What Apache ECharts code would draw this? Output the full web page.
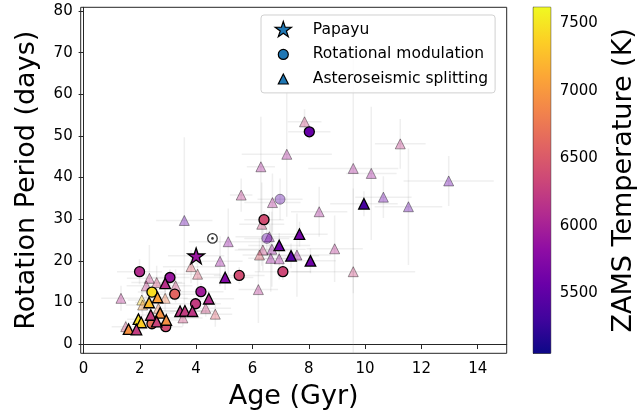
<!DOCTYPE html>
<html><head><meta charset="utf-8">
<script src="https://cdn.jsdelivr.net/npm/echarts@6/dist/echarts.min.js"></script>
<style>html,body{margin:0;padding:0;background:#fff}#c{width:644px;height:418px}</style>
</head><body><div id="c"></div>
<script>
// ---------- data ----------
const xTicks = [0, 2, 4, 6, 8, 10, 12, 14];
const yTicks = [0, 10, 20, 30, 40, 50, 60, 70, 80];
const cbTicks = [5500, 6000, 6500, 7000, 7500];
const tempRange = [5056, 7618];
const plasma = ['#0d0887','#41049d','#6a00a8','#8f0da4','#b12a90','#cc4778','#e16462','#f2844b','#fca636','#fcce25','#f0f921'];

// [age (Gyr), period (d), ZAMS Teff (K), age err, period err]
const faintTri = [
  [7.85,53.4,6300,0.6,3],[7.22,45.6,6000,1.6,15],[6.30,42.6,6000,0.5,12],[11.25,48.1,6200,0.9,6],
  [9.58,42.2,6000,1.6,30],[10.22,41.0,5950,0.9,16],[12.97,39.2,5550,1.6,6],[10.65,35.3,5550,1.0,5],
  [11.54,33.0,5500,1.2,14],[8.37,31.8,6000,1.0,6],[5.60,35.8,6150,0.4,4],[6.71,34.0,6050,1.0,7],
  [3.58,29.7,5500,1.0,20],[6.33,28.8,6300,0.8,10],[6.60,25.8,5800,1.2,6],[5.14,24.6,5850,1.4,8],
  [8.92,22.9,6100,1.0,8],[6.37,22.6,6250,1.0,5],[6.69,22.8,5900,1.2,9],[6.25,21.4,6500,0.6,4],
  [6.65,20.6,5900,0.8,8],[6.95,20.5,5950,0.8,5],[7.58,21.4,5900,1.2,10],[9.58,17.4,6300,2.2,20],
  [4.85,19.9,5900,0.8,6],[3.82,18.6,6500,1.0,4],[4.05,16.8,6450,0.8,5],[6.21,13.1,6100,0.7,8],
  [2.34,15.8,6200,0.8,8],[2.60,14.8,6350,0.9,4],[2.23,14.0,6200,0.7,3],[3.27,14.0,6300,0.6,4],
  [1.33,11.0,6100,0.7,3],[2.07,10.6,7400,0.5,3],[2.10,9.4,7000,0.6,3],[2.90,11.0,6800,0.8,3],
  [2.66,8.6,6800,0.7,3],[3.53,6.3,6300,0.7,2],[4.34,8.6,6300,0.9,2],[4.68,7.2,6500,0.6,3],
  [1.50,4.2,6300,0.5,1.5]
];
const faintCirc = [[6.98,34.8,5450,0.8,5],[6.51,25.4,5500,0.8,4]];
const boldCirc = [
  [8.02,51.0,5550,0.75,2],[6.41,29.9,6400,0.7,2],[7.08,17.4,6350,1.0,2],[5.53,16.5,6400,0.9,2],
  [1.99,17.4,6100,0.8,3],[3.07,16.0,5900,0.7,2],[2.43,12.5,7450,0.5,1],[3.24,12.0,6600,0.8,1.5],
  [4.17,12.6,5950,0.8,2],[3.98,9.7,6250,0.9,1.5],[2.43,4.9,6700,0.5,1],[2.92,4.2,6400,0.6,1]
];
const boldTri = [
  [9.96,33.7,5350,1.2,3],[7.67,26.4,5650,1.0,3],[6.95,23.7,5600,1.1,3],[7.37,21.2,5450,1.0,3],
  [8.06,20.0,5600,0.9,3],[5.03,16.0,5750,1.0,3],[2.90,14.6,6150,0.7,2],[2.63,11.2,7050,0.5,1.5],
  [2.33,10.0,7250,0.5,1.5],[4.45,10.9,6100,0.9,2],[3.43,7.9,6200,0.8,1.5],[3.60,8.0,6250,0.8,1.5],
  [3.87,7.9,6200,0.8,1.5],[2.39,7.0,6250,0.5,1],[2.72,7.5,6950,0.5,1],[1.95,6.0,7450,0.4,1],
  [2.05,5.2,7350,0.4,1],[2.60,5.4,6300,0.5,1],[2.94,5.8,6950,0.5,1],[1.60,3.6,6950,0.3,0.8],
  [1.88,3.5,6250,0.3,0.8]
];
const papayu = [[4.00,21.2,5900,1.0,2]];
const sunPos = [[4.58,25.4]];

// ---------- chart ----------
const FONT = 'DejaVu Sans';
const starPath = 'path://M0,-1L0.2245,-0.309L0.951,-0.309L0.363,0.118L0.588,0.809L0,0.382L-0.588,0.809L-0.363,0.118L-0.951,-0.309L-0.2245,-0.309Z';
const legStar = 'path://M-8.5,-8.5M8.5,8.5M0,-8.5L1.908,-2.627L8.084,-2.627L3.086,1.003L4.998,6.877L0,3.247L-4.998,6.877L-3.086,1.003L-8.084,-2.627L-1.908,-2.627Z';
const legCirc = 'path://M-8.5,-8.5M8.5,8.5M-5,0A5,5 0 1,1 5,0A5,5 0 1,1 -5,0Z';
const legTri = 'path://M-8.5,-8.5M8.5,8.5M0,-5L5,5L-5,5Z';

const allPts = [].concat(faintTri, faintCirc, boldCirc, boldTri, papayu);
const errData = allPts.map(p => [p[0], p[1], p[3], p[4]]);

const chart = echarts.init(document.getElementById('c'), null, {renderer: 'canvas'});
const axisCol = '#262626';
const tickStyle = (vals) => ({show: true, inside: false, length: 4.9, lineStyle: {color: axisCol, width: 1}, customValues: vals});
const labStyle = (vals, m) => ({show: true, customValues: vals, fontSize: 15, color: '#000', fontFamily: FONT, margin: m,
  formatter: v => String(v)});

chart.setOption({
  animation: false,
  textStyle: {fontFamily: FONT},
  grid: [
    {left: 80.7, top: 7.3, width: 426, height: 346, show: true, borderColor: axisCol, borderWidth: 1, backgroundColor: 'transparent'},
    {left: 533.3, top: 7.3, width: 17.4, height: 346, show: true, borderColor: axisCol, borderWidth: 1, backgroundColor: 'transparent'}
  ],
  xAxis: [
    {gridIndex: 0, type: 'value', min: -0.1, max: 15.03,
     axisLine: {show: true, lineStyle: {color: axisCol}}, axisTick: tickStyle(xTicks), axisLabel: labStyle(xTicks, 8),
     splitLine: {show: false}, name: 'Age (Gyr)', nameLocation: 'middle', nameGap: 30,
     nameTextStyle: {fontSize: 27, color: '#000', fontFamily: FONT}},
    {gridIndex: 1, type: 'value', min: 0, max: 1, show: false}
  ],
  yAxis: [
    {gridIndex: 0, type: 'value', min: -2.2, max: 80.9,
     axisLine: {show: true, lineStyle: {color: axisCol}}, axisTick: tickStyle(yTicks), axisLabel: labStyle(yTicks, 8),
     splitLine: {show: false}, name: 'Rotation Period (days)', nameLocation: 'middle', nameGap: 40, nameRotate: 90,
     nameTextStyle: {fontSize: 27, color: '#000', fontFamily: FONT}},
    {gridIndex: 1, type: 'value', position: 'right', min: tempRange[0], max: tempRange[1],
     axisLine: {show: true, lineStyle: {color: axisCol}}, axisTick: tickStyle(cbTicks), axisLabel: labStyle(cbTicks, 9),
     splitLine: {show: false}, name: 'ZAMS Temperature (K)', nameLocation: 'middle', nameGap: 60, nameRotate: 90,
     nameTextStyle: {fontSize: 27, color: '#000', fontFamily: FONT}}
  ],
  visualMap: [{type: 'continuous', show: false, min: tempRange[0], max: tempRange[1], dimension: 2,
    seriesIndex: [1, 2, 3, 4, 5], inRange: {color: plasma}}],
  legend: {
    left: 261, top: 15, orient: 'vertical',
    padding: [5.8, 7, 4.8, 13.2], itemWidth: 17, itemHeight: 17, itemGap: 6.35,
    backgroundColor: 'rgba(255,255,255,0.8)', borderColor: '#d0d0d0', borderWidth: 1, borderRadius: 3,
    textStyle: {fontSize: 15.5, color: '#000', fontFamily: FONT, lineHeight: 17, padding: [0, 0, 0, 16]},
    data: [
      {name: 'Papayu', icon: legStar, itemStyle: {color: '#1f77b4', borderColor: '#000', borderWidth: 1.2}},
      {name: 'Rotational modulation', icon: legCirc, itemStyle: {color: '#1f77b4', borderColor: '#000', borderWidth: 1.2}},
      {name: 'Asteroseismic splitting', icon: legTri, itemStyle: {color: '#1f77b4', borderColor: '#000', borderWidth: 1.2}}
    ]
  },
  series: [
    {type: 'custom', name: 'err', xAxisIndex: 0, yAxisIndex: 0, z: 1, clip: true, silent: true,
     encode: {x: 0, y: 1}, data: errData,
     renderItem: function (params, api) {
       const x = api.value(0), y = api.value(1), dx = api.value(2), dy = api.value(3);
       const a = api.coord([x - dx, y]), b = api.coord([x + dx, y]);
       const c = api.coord([x, y - dy]), d = api.coord([x, y + dy]);
       const st = {stroke: 'rgba(150,150,150,0.15)', lineWidth: 1.5};
       return {type: 'group', children: [
         {type: 'line', shape: {x1: a[0], y1: a[1], x2: b[0], y2: b[1]}, style: st},
         {type: 'line', shape: {x1: c[0], y1: c[1], x2: d[0], y2: d[1]}, style: st}
       ]};
     }},
    {type: 'scatter', name: 'faintTri', z: 2, symbol: 'triangle', symbolSize: 10, data: faintTri,
     itemStyle: {opacity: 0.38, borderColor: '#000', borderWidth: 1}},
    {type: 'scatter', name: 'faintCirc', z: 2, symbol: 'circle', symbolSize: 10, data: faintCirc,
     itemStyle: {opacity: 0.38, borderColor: '#000', borderWidth: 1}},
    {type: 'scatter', name: 'Rotational modulation', z: 3, symbol: 'circle', symbolSize: 10, data: boldCirc,
     itemStyle: {opacity: 1, borderColor: '#000', borderWidth: 1.3}},
    {type: 'scatter', name: 'Asteroseismic splitting', z: 3, symbol: 'triangle', symbolSize: 10.5, data: boldTri,
     itemStyle: {opacity: 1, borderColor: '#000', borderWidth: 1.3}},
    {type: 'scatter', name: 'Papayu', z: 4, symbol: starPath, symbolKeepAspect: true, symbolSize: 16.5, data: papayu,
     itemStyle: {opacity: 1, borderColor: '#000', borderWidth: 1.3}},
    {type: 'scatter', name: 'Sun', z: 4, symbol: 'circle', symbolSize: 9.5, data: sunPos,
     itemStyle: {color: '#fff', borderColor: '#000', borderWidth: 1.3}},
    {type: 'scatter', name: 'SunDot', z: 5, symbol: 'circle', symbolSize: 2.6, data: sunPos,
     itemStyle: {color: '#000'}},
    {type: 'custom', name: 'colorbar', xAxisIndex: 1, yAxisIndex: 1, silent: true,
     data: [[0, tempRange[0], 1, tempRange[1]]],
     renderItem: function (params, api) {
       const p0 = api.coord([api.value(0), api.value(3)]);
       const p1 = api.coord([api.value(2), api.value(1)]);
       const stops = plasma.map((c, i) => ({offset: i / (plasma.length - 1), color: c}));
       return {type: 'rect', shape: {x: p0[0], y: p0[1], width: p1[0] - p0[0], height: p1[1] - p0[1]},
               style: {fill: new echarts.graphic.LinearGradient(0, 1, 0, 0, stops)}};
     }}
  ]
});
</script></body></html>
